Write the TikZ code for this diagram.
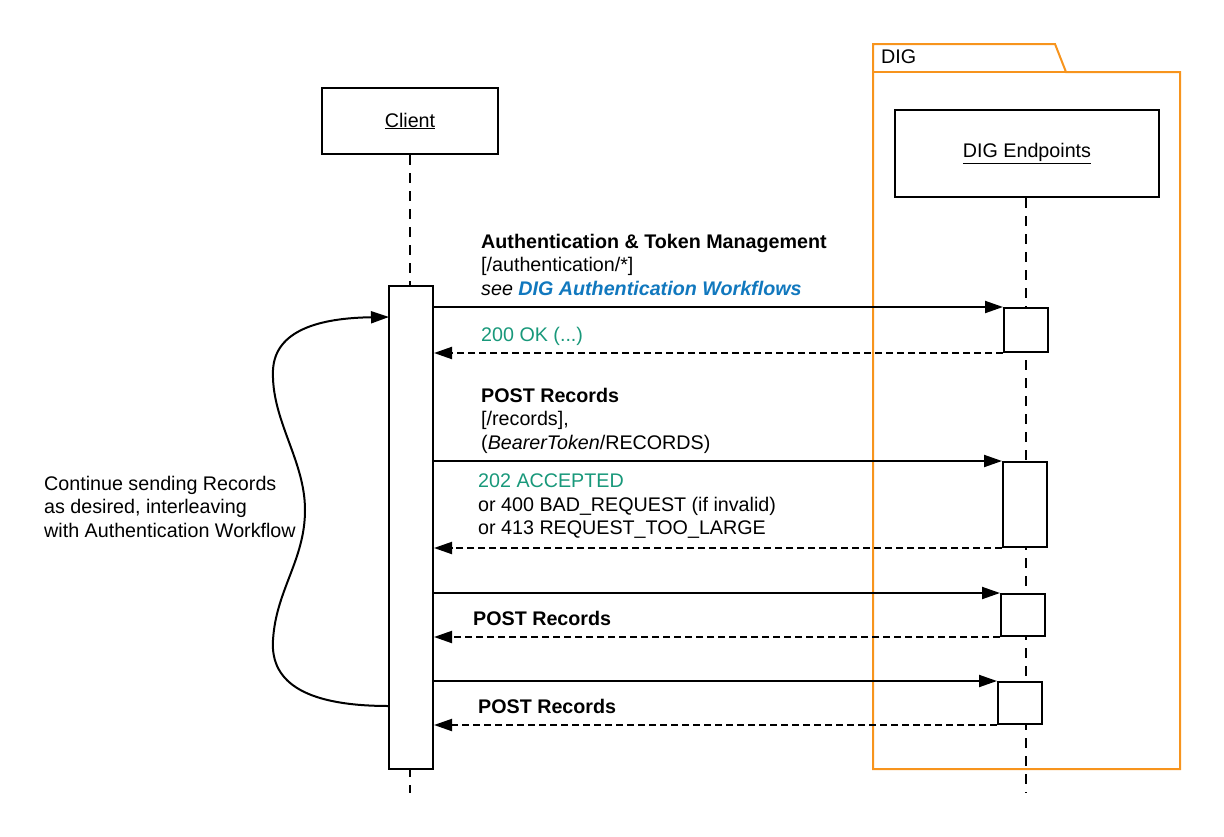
\documentclass[tikz,border=0pt]{standalone}
\usepackage{fontspec}
\setmainfont{Liberation Sans}
\usetikzlibrary{arrows.meta}
\definecolor{digorange}{RGB}{247,148,29}
\definecolor{okgreen}{RGB}{24,152,122}
\definecolor{linkblue}{RGB}{17,120,190}
\begin{document}
\begin{tikzpicture}[x=1pt,y=-1pt,
  every node/.style={font=\fontsize{19.7}{23.5}\selectfont},
  actor/.style={draw,line width=2pt,fill=white,inner sep=0},
  actbar/.style={draw,line width=2pt,fill=white,minimum width=44pt,inner sep=0},
  lifeline/.style={line width=2pt,dash pattern=on 10pt off 8pt},
  msg/.style={line width=2pt,-{Triangle[length=18pt,width=12pt]}},
  reply/.style={msg,dash pattern=on 7pt off 4pt},
  lbl/.style={anchor=north west,inner sep=0,align=left},
  pkg/.style={draw=digorange,line width=2pt}
]
\useasboundingbox (0,0) rectangle (1224,836);

% DIG package frame
\draw[pkg] (873,769) -- (873,44) -- (1055,44) -- (1066,72) -- (1180,72) -- (1180,769) -- cycle;
\draw[pkg] (873,72) -- (1066,72);
\node[lbl] (diglbl) at (881,50) {DIG};

% participants
\node[actor,minimum width=176pt,minimum height=66pt] (client) at (410,121) {\raisebox{2pt}{\underline{Client}}};
\node[actor,minimum width=264pt,minimum height=87pt] (dig) at (1027,153.5) {\underline{DIG Endpoints}};

% lifelines
\coordinate (clientend) at (410,793);
\coordinate (digend) at (1026,793);
\draw[lifeline] (client.south) -- (clientend);
\draw[lifeline] (dig.south -| digend) -- (digend);

% activation bars
\node[actbar,minimum height=483pt] (cbar) at (411,527.5) {};
\node[actbar,minimum height=44pt] (a1) at (1026,330) {};
\node[actbar,minimum height=85pt] (a2) at (1025,504.5) {};
\node[actbar,minimum height=42pt] (a3) at (1023,615) {};
\node[actbar,minimum height=42pt] (a4) at (1020,703) {};

% messages
\draw[msg] (cbar.east |- a1.north west) -- (a1.north west);
\draw[reply] (a1.south west) -- (cbar.east |- a1.south west);
\draw[msg] (cbar.east |- a2.north west) -- (a2.north west);
\draw[reply] (a2.south west) -- (cbar.east |- a2.south west);
\draw[msg] (cbar.east |- a3.north west) -- (a3.north west);
\draw[reply] (a3.south west) -- (cbar.east |- a3.south west);
\draw[msg] (cbar.east |- a4.north west) -- (a4.north west);
\draw[reply] (a4.south west) -- (cbar.east |- a4.south west);

% labels
\node[lbl] (l1) at (481,234) {\textbf{Authentication \& Token Management}\\{}[/authentication/*]\\\textit{see \textcolor{linkblue}{\textbf{DIG Authentication Workflows}}}};
\node[lbl,text=okgreen] (l2) at (481,327) {200 OK (...)};
\node[lbl] (l3) at (481,388) {\textbf{POST Records}\\{}[/records],\\(\textit{BearerToken}/RECORDS)};
\node[lbl] (l4) at (478,474) {\textcolor{okgreen}{202 ACCEPTED}\\or 400 BAD\_REQUEST (if invalid)\\or 413 REQUEST\_TOO\_LARGE};
\node[lbl] (l5) at (473,611) {\textbf{POST Records}};
\node[lbl] (l6) at (478,699) {\textbf{POST Records}};

% loop
\coordinate (loopstart) at (389,706);
\coordinate (loopend) at (389,317);
\draw[msg] (loopstart) .. controls (310,706) and (270,685) .. (273,640)
  .. controls (276,590) and (305,560) .. (305,510)
  .. controls (305,460) and (271,420) .. (273,370)
  .. controls (275,330) and (320,318) .. (loopend);
\node[lbl] (note) at (44,476) {Continue sending Records\\as desired, interleaving\\with Authentication Workflow};
\end{tikzpicture}
\end{document}
